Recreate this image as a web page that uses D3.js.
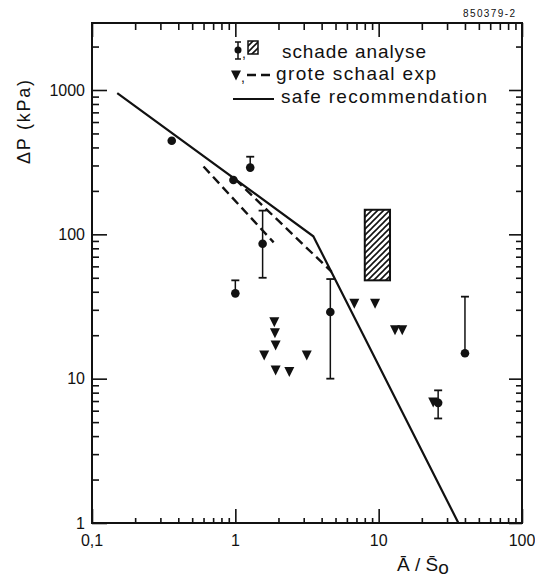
<!DOCTYPE html>
<html><head><meta charset="utf-8">
<script src="https://cdn.jsdelivr.net/npm/d3@7"></script>
<style>
body{margin:0;background:#fff}
text{font-family:"Liberation Sans",Arial,sans-serif;fill:#111}
</style>
</head><body>
<svg id="c" width="535" height="584"></svg>
<script>
// ---------- data ----------
const xTickValues = [0.1, 1, 10, 100];
const xTickLabels = ["0,1", "1", "10", "100"];
const yTickValues = [1, 10, 100, 1000];
const yTickLabels = ["1", "10", "100", "1000"];

// schade analyse (dots with error bars)
const schadeX    = [0.36, 0.97, 1.27, 1.0, 1.55, 4.6, 26, 40];
const schadeY    = [445, 238, 290, 39, 86, 29, 6.8, 15];
const schadeLow  = [null, null, null, null, 50, 10, 5.3, null];
const schadeHigh = [null, null, 345, 48, 146, 49, 8.3, 37];
// schade analyse (hatched range)
const rangeX = [8, 12];
const rangeY = [48, 148];

// grote schaal exp (triangles)
const groteX = [1.87, 1.89, 1.91, 1.59, 3.15, 1.91, 2.38, 6.76, 9.44, 13.0, 14.6, 24];
const groteY = [24.8, 20.8, 17.1, 14.6, 14.6, 11.5, 11.2, 33.3, 33.3, 21.8, 21.8, 6.9];
// grote schaal exp (dashed lines)
const dashAX = [1.0, 4.7];
const dashAY = [240, 55];
const dashBX = [0.6, 1.85];
const dashBY = [295, 88];

// safe recommendation
const safeX = [0.15, 3.5, 36];
const safeY = [950, 97, 1];

const legendLabels = ["schade analyse", "grote schaal exp", "safe recommendation"];

// ---------- layout ----------
const svg = d3.select("#c");
const L = 92, R = 522, T = 23, B = 523;
const x = d3.scaleLog().domain([0.1, 100]).range([L, R]);
const yRef = d3.scaleLog().domain([1, 1000]).range([B, 90]);
const y = d3.scaleLog().domain([1, yRef.invert(T)]).range([B, T]);

const defs = svg.append("defs");
const pat = defs.append("pattern").attr("id", "hatch").attr("patternUnits", "userSpaceOnUse")
  .attr("width", 6).attr("height", 6);
pat.append("path").attr("d", "M-1,1 l2,-2 M0,6 l6,-6 M5,7 l2,-2")
  .attr("stroke", "#111").attr("stroke-width", 1.6);

// minor tick values
const xMinor = [], yMinor = [];
[0.1, 1, 10].forEach(d => { for (let k = 2; k <= 9; k++) xMinor.push(d * k); });
[1, 10, 100, 1000].forEach(d => { for (let k = 2; k <= 9; k++) if (d * k <= y.domain()[1]) yMinor.push(d * k); });

function axis(gen, tr, vals, size) {
  const g = svg.append("g").attr("transform", tr)
    .call(gen.tickValues(vals).tickSize(size).tickFormat(""));
  g.select(".domain").remove();
  g.selectAll("line").attr("stroke", "#111").attr("stroke-width", 1.6);
}
axis(d3.axisBottom(x), `translate(0,${B})`, xMinor, -5);
axis(d3.axisBottom(x), `translate(0,${B})`, xTickValues, -14);
axis(d3.axisTop(x), `translate(0,${T})`, xMinor, -7);
axis(d3.axisTop(x), `translate(0,${T})`, xTickValues, -14);
axis(d3.axisLeft(y), `translate(${L},0)`, yMinor, -7);
axis(d3.axisLeft(y), `translate(${L},0)`, yTickValues, -15);
axis(d3.axisRight(y), `translate(${R},0)`, yMinor, -6);
axis(d3.axisRight(y), `translate(${R},0)`, yTickValues, -13);

svg.append("rect").attr("x", L).attr("y", T).attr("width", R - L).attr("height", B - T)
  .attr("fill", "none").attr("stroke", "#111").attr("stroke-width", 2);

// tick labels
xTickValues.forEach((v, i) => {
  svg.append("text").attr("x", x(v)).attr("y", 546).attr("text-anchor", "middle")
    .attr("font-size", 16).text(xTickLabels[i]);
});
yTickValues.forEach((v, i) => {
  svg.append("text").attr("x", 85).attr("y", y(v)).attr("dy", "0.36em").attr("text-anchor", "end")
    .attr("font-size", 16).text(yTickLabels[i]);
});

// axis titles
svg.append("text").attr("transform", "translate(30,122) rotate(-90)").attr("text-anchor", "middle")
  .attr("font-size", 18).attr("textLength", 84).attr("lengthAdjust", "spacing").text("ΔP (kPa)");
const xt = svg.append("text").attr("x", 397).attr("y", 571).attr("font-size", 19);
xt.append("tspan").text("Ā / S̄");
xt.append("tspan").attr("dy", 3).text("o");

svg.append("text").attr("x", 515).attr("y", 17).attr("text-anchor", "end")
  .attr("font-size", 10).attr("textLength", 52).attr("lengthAdjust", "spacing").text("850379-2");

// ---------- marks ----------
const line = d3.line().x(d => x(d[0])).y(d => y(d[1]));
svg.append("path").datum(d3.zip(safeX, safeY)).attr("d", line)
  .attr("fill", "none").attr("stroke", "#111").attr("stroke-width", 2.2);
[[dashAX, dashAY], [dashBX, dashBY]].forEach(([xs, ys]) => {
  svg.append("path").datum(d3.zip(xs, ys)).attr("d", line)
    .attr("fill", "none").attr("stroke", "#111").attr("stroke-width", 2.4)
    .attr("stroke-dasharray", "9,5");
});

svg.append("rect").attr("x", x(rangeX[0])).attr("y", y(rangeY[1]))
  .attr("width", x(rangeX[1]) - x(rangeX[0])).attr("height", y(rangeY[0]) - y(rangeY[1]))
  .attr("fill", "url(#hatch)").attr("stroke", "#111").attr("stroke-width", 2);

// error bars
schadeX.forEach((v, i) => {
  const lo = schadeLow[i] != null ? schadeLow[i] : schadeY[i];
  const hi = schadeHigh[i] != null ? schadeHigh[i] : schadeY[i];
  if (lo === hi) return;
  const cx = x(v);
  svg.append("line").attr("x1", cx).attr("x2", cx).attr("y1", y(lo)).attr("y2", y(hi))
    .attr("stroke", "#111").attr("stroke-width", 1.5);
  if (schadeHigh[i] != null) svg.append("line").attr("x1", cx - 4).attr("x2", cx + 4)
    .attr("y1", y(hi)).attr("y2", y(hi)).attr("stroke", "#111").attr("stroke-width", 1.8);
  if (schadeLow[i] != null) svg.append("line").attr("x1", cx - 4).attr("x2", cx + 4)
    .attr("y1", y(lo)).attr("y2", y(lo)).attr("stroke", "#111").attr("stroke-width", 1.8);
});

const tri = "M-5,-4.5 L5,-4.5 L0,5.5 Z";
svg.append("g").selectAll("path").data(d3.zip(groteX, groteY)).join("path")
  .attr("transform", d => `translate(${x(d[0])},${y(d[1])})`).attr("d", tri).attr("fill", "#111");

svg.append("g").selectAll("circle").data(d3.zip(schadeX, schadeY)).join("circle")
  .attr("cx", d => x(d[0])).attr("cy", d => y(d[1])).attr("r", 4.3).attr("fill", "#111");

// ---------- legend ----------
const lg = svg.append("g");
// row 1
lg.append("line").attr("x1", 238).attr("x2", 238).attr("y1", 42).attr("y2", 59).attr("stroke", "#111").attr("stroke-width", 1.5);
lg.append("line").attr("x1", 235).attr("x2", 241).attr("y1", 42).attr("y2", 42).attr("stroke", "#111").attr("stroke-width", 1.5);
lg.append("line").attr("x1", 235).attr("x2", 241).attr("y1", 59).attr("y2", 59).attr("stroke", "#111").attr("stroke-width", 1.5);
lg.append("circle").attr("cx", 238).attr("cy", 50).attr("r", 3.5).attr("fill", "#111");
lg.append("text").attr("x", 242).attr("y", 58).attr("font-size", 14).text(",");
lg.append("rect").attr("x", 248).attr("y", 41).attr("width", 10).attr("height", 13)
  .attr("fill", "url(#hatch)").attr("stroke", "#111").attr("stroke-width", 1.5);
// row 2
lg.append("path").attr("transform", "translate(236,75)").attr("d", tri).attr("fill", "#111");
lg.append("text").attr("x", 241).attr("y", 82).attr("font-size", 14).text(",");
lg.append("line").attr("x1", 247).attr("x2", 274).attr("y1", 75).attr("y2", 75)
  .attr("stroke", "#111").attr("stroke-width", 2.4).attr("stroke-dasharray", "9,5");
// row 3
lg.append("line").attr("x1", 233).attr("x2", 274).attr("y1", 99).attr("y2", 99)
  .attr("stroke", "#111").attr("stroke-width", 2.2);

const legX = [282, 276, 281], legY = [58, 80, 103], legW = [144, 160, 206];
legendLabels.forEach((t, i) => {
  lg.append("text").attr("x", legX[i]).attr("y", legY[i]).attr("font-size", 19)
    .attr("textLength", legW[i]).attr("lengthAdjust", "spacing").text(t);
});
</script>
</body></html>
